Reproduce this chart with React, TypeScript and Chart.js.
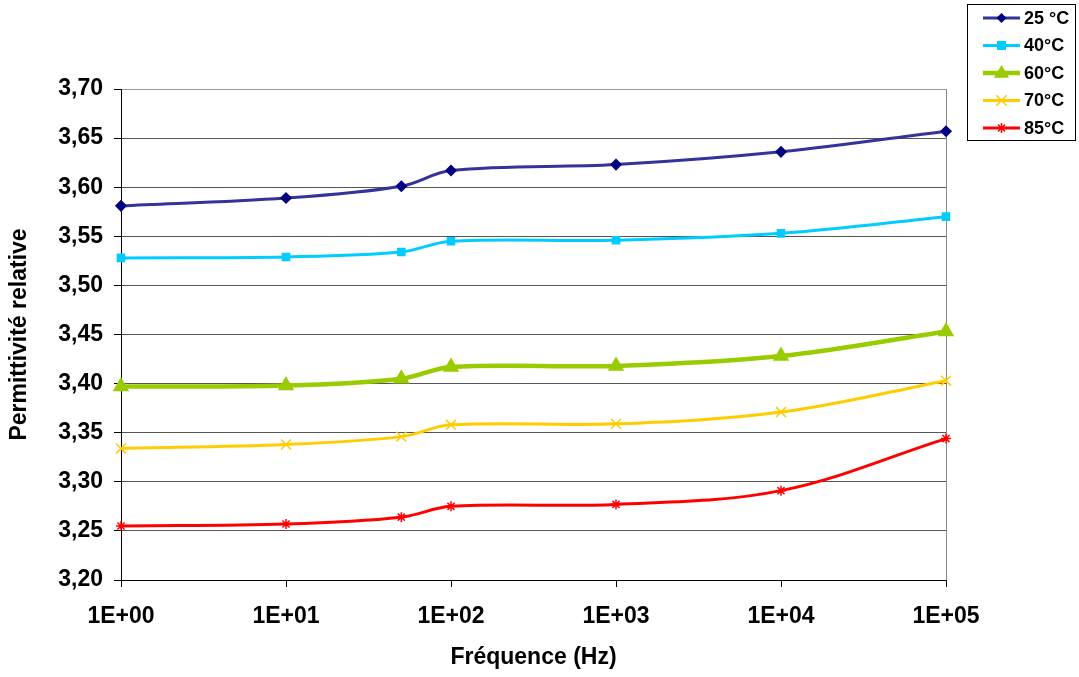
import React, { useEffect, useRef } from "react";
import { Chart, registerables } from "chart.js";

Chart.register(...registerables);

const frequencies = [1, 10, 50, 100, 1000, 10000, 100000];
const seriesLabels = ["25 °C", "40°C", "60°C", "70°C", "85°C"];
const values25 = [3.581, 3.589, 3.601, 3.617, 3.623, 3.636, 3.657];
const values40 = [3.528, 3.529, 3.534, 3.545, 3.546, 3.553, 3.57];
const values60 = [3.397, 3.398, 3.405, 3.417, 3.418, 3.428, 3.453];
const values70 = [3.334, 3.338, 3.346, 3.358, 3.359, 3.371, 3.403];
const values85 = [3.255, 3.257, 3.264, 3.275, 3.277, 3.291, 3.344];
const xTickValues = [1, 10, 100, 1000, 10000, 100000];
const yTitle = "Permittivité relative";
const xTitle = "Fréquence (Hz)";

const styles = [
  { line: "#333399", point: "#000080", style: "rectRot", radius: 5, width: 3 },
  { line: "#00ccff", point: "#00ccff", style: "rect", radius: 5, width: 3 },
  { line: "#99cc00", point: "#99cc00", style: "triangle", radius: 8, width: 4.5 },
  { line: "#ffcc00", point: "#ffcc00", style: "crossRot", radius: 7, width: 3 },
  { line: "#ff0000", point: "#ff0000", style: "star", radius: 5, width: 3 },
];

const FONT = "'Liberation Sans', Arial, sans-serif";
const AXIS_FONT_SIZE = 23;

function drawPoint(ctx: CanvasRenderingContext2D, style: string, r: number, x: number, y: number) {
  ctx.beginPath();
  if (style === "rectRot") {
    ctx.moveTo(x, y - r);
    ctx.lineTo(x + r, y);
    ctx.lineTo(x, y + r);
    ctx.lineTo(x - r, y);
    ctx.closePath();
    ctx.fill();
  } else if (style === "rect") {
    const s = r * 0.9;
    ctx.rect(x - s, y - s, 2 * s, 2 * s);
    ctx.fill();
  } else if (style === "triangle") {
    ctx.moveTo(x, y - r);
    ctx.lineTo(x + r * 0.95, y + r * 0.6);
    ctx.lineTo(x - r * 0.95, y + r * 0.6);
    ctx.closePath();
    ctx.fill();
  } else if (style === "crossRot") {
    const s = r * 0.75;
    ctx.moveTo(x - s, y - s);
    ctx.lineTo(x + s, y + s);
    ctx.moveTo(x + s, y - s);
    ctx.lineTo(x - s, y + s);
    ctx.stroke();
  } else if (style === "star") {
    const s = r;
    ctx.moveTo(x - s, y);
    ctx.lineTo(x + s, y);
    ctx.moveTo(x, y - s);
    ctx.lineTo(x, y + s);
    const d = s * 0.7;
    ctx.moveTo(x - d, y - d);
    ctx.lineTo(x + d, y + d);
    ctx.moveTo(x + d, y - d);
    ctx.lineTo(x - d, y + d);
    ctx.stroke();
  }
}

const legendPlugin = {
  id: "customLegend",
  afterDraw(chart: any) {
    const ctx = chart.ctx;
    ctx.save();
    ctx.strokeStyle = "#000";
    ctx.lineWidth = 1;
    ctx.strokeRect(967.5, 4.5, 108, 136);
    chart.data.datasets.forEach((ds: any, i: number) => {
      const y = 18 + i * 27.5;
      ctx.strokeStyle = ds.borderColor;
      ctx.lineWidth = ds.borderWidth;
      ctx.beginPath();
      ctx.moveTo(983, y);
      ctx.lineTo(1020, y);
      ctx.stroke();
      ctx.fillStyle = ds.pointBackgroundColor;
      ctx.strokeStyle = ds.pointBorderColor;
      ctx.lineWidth = 1.5;
      drawPoint(ctx, ds.pointStyle, ds.pointRadius, 1001.5, y);
      ctx.fillStyle = "#000";
      ctx.font = `bold 18px ${FONT}`;
      ctx.textBaseline = "middle";
      ctx.textAlign = "left";
      ctx.fillText(ds.label, 1024, y + 1);
    });
    ctx.restore();
  },
};

export default function App() {
  const ref = useRef<HTMLCanvasElement | null>(null);

  useEffect(() => {
    document.body.style.margin = "0";
    const canvas = ref.current;
    if (!canvas) return;
    const all = [values25, values40, values60, values70, values85];
    const chart = new Chart(canvas, {
      type: "line",
      data: {
        datasets: all.map((vals, i) => ({
          label: seriesLabels[i],
          data: frequencies.map((f, j) => ({ x: f, y: vals[j] })),
          borderColor: styles[i].line,
          borderWidth: styles[i].width,
          pointBackgroundColor: styles[i].point,
          pointBorderColor: styles[i].point,
          pointBorderWidth: 1.5,
          pointStyle: styles[i].style as any,
          pointRadius: styles[i].radius,
          tension: 0.35,
          clip: false as any,
          fill: false,
        })),
      },
      options: {
        responsive: false,
        animation: false,
        layout: { padding: { left: 0, right: 133, top: 89, bottom: 0 } },
        plugins: {
          legend: { display: false },
          tooltip: { enabled: false },
        },
        scales: {
          x: {
            type: "logarithmic",
            min: 1,
            max: 100000,
            afterBuildTicks: (scale: any) => {
              scale.ticks = xTickValues.map((v) => ({ value: v, major: true }));
            },
            afterFit: (scale: any) => {
              scale.height = 97;
            },
            ticks: {
              autoSkip: false,
              maxRotation: 0,
              padding: 16,
              color: "#000",
              font: { family: FONT, size: AXIS_FONT_SIZE, weight: "bold" },
              callback: (v: any) => {
                const e = Math.round(Math.log10(Number(v)));
                return "1E+" + String(e).padStart(2, "0");
              },
            },
            grid: {
              drawOnChartArea: true,
              color: (c: any) => (c.tick && c.tick.value === 100000 ? "#888" : "rgba(0,0,0,0)"),
              tickColor: "#000",
              tickLength: 7,
              lineWidth: 1,
            },
            border: { color: "#000", width: 1 },
            title: {
              display: true,
              text: xTitle,
              color: "#000",
              font: { family: FONT, size: AXIS_FONT_SIZE, weight: "bold" },
              padding: { top: 0, bottom: 6 },
            },
          },
          y: {
            min: 3.2,
            max: 3.7,
            afterBuildTicks: (scale: any) => {
              const t = [];
              for (let i = 0; i <= 10; i++) t.push({ value: 3.2 + i * 0.05 });
              scale.ticks = t;
            },
            afterFit: (scale: any) => {
              scale.width = 121;
            },
            ticks: {
              padding: 11,
              color: "#000",
              font: { family: FONT, size: AXIS_FONT_SIZE, weight: "bold" },
              callback: (v: any) => Number(v).toFixed(2).replace(".", ","),
            },
            grid: {
              color: (c: any) => (c.tick && Math.abs(c.tick.value - 3.7) < 1e-6 ? "#999" : "#555"),
              tickColor: "#000",
              tickLength: 7,
              lineWidth: 1,
            },
            border: { color: "#000", width: 1 },
            title: {
              display: true,
              text: yTitle,
              color: "#000",
              font: { family: FONT, size: AXIS_FONT_SIZE, weight: "bold" },
              padding: { top: 6, bottom: 0 },
            },
          },
        },
      },
      plugins: [legendPlugin],
    } as any);
    return () => chart.destroy();
  }, []);

  return (
    <div style={{ width: 1079, height: 677 }}>
      <canvas ref={ref} width={1079} height={677} style={{ display: "block" }} />
    </div>
  );
}
